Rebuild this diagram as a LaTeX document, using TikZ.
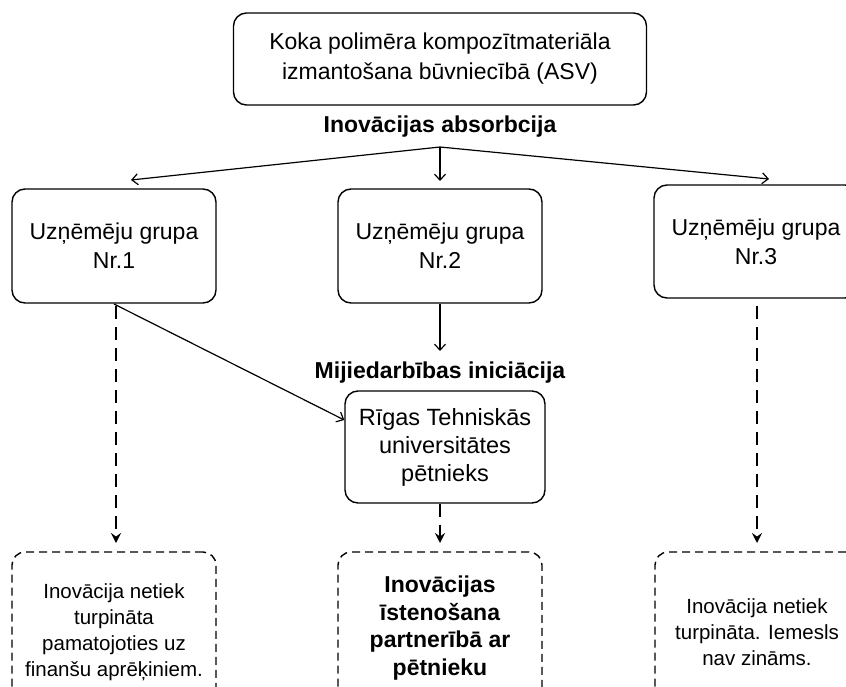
\documentclass[tikz,border=0pt]{standalone}
\usepackage{fontspec}
\setmainfont{Liberation Sans}
\usetikzlibrary{arrows.meta}
\begin{document}
\begin{tikzpicture}[x=1pt,y=-1pt,
  box/.style={draw, line width=1.4pt, rounded corners=13pt, align=center, inner sep=0pt},
  dbox/.style={box, dash pattern=on 8pt off 5pt},
  lbl/.style={font=\fontsize{23}{26}\selectfont\bfseries, inner sep=0pt},
  solidarrow/.style={line width=1.2pt, -{Straight Barb[length=6pt,width=11pt]}},
  dasharrow/.style={line width=1.7pt, dash pattern=on 13pt off 8pt,
    -{Stealth[length=10pt,width=10pt,inset=3.5pt]}}
]
\useasboundingbox (0,0) rectangle (846,686);
\clip (0,0) rectangle (846,686);

% top box
\node[box, minimum width=413pt, minimum height=92pt, font=\fontsize{23}{30}\selectfont] (top) at (440,59)
  {Koka polimēra kompozītmateriāla\\izmantošana būvniecībā (ASV)};
\node[lbl] (absorb) at (440,127) {Inovācijas absorbcija};

% company groups
\tikzset{grp/.style={box, minimum width=204pt, minimum height=114pt, font=\fontsize{23}{29}\selectfont}}
\node[grp] (g1) at (114,246) {Uzņēmēju grupa\\Nr.1};
\node[grp] (g2) at (440,246) {Uzņēmēju grupa\\Nr.2};
\node[grp, minimum height=113pt] (g3) at (756,241.5) {Uzņēmēju grupa\\Nr.3};

% interaction
\node[lbl] (inter) at (440,373) {Mijiedarbības iniciācija};
\node[box, minimum width=200pt, minimum height=112pt, font=\fontsize{23.5}{28}\selectfont] (rtu) at (445,447)
  {Rīgas Tehniskās\\universitātes\\pētnieks};

% outcomes
\tikzset{res/.style={dbox, minimum width=204pt, minimum height=160pt, font=\fontsize{20.5}{26}\selectfont}}
\node[res] (o1) at (114,632)
  {Inovācija netiek\\turpināta\\pamatojoties uz\\finanšu aprēķiniem.};
\node[res, minimum height=152pt, font=\fontsize{23}{27.5}\selectfont\bfseries] (o2) at (440,628)
  {Inovācijas\\īstenošana\\partnerībā ar\\pētnieku};
\node[res] (o3) at (757,632)
  {Inovācija netiek\\turpināta. Iemesls\\nav zināms.};

% split of the absorption arrows
\coordinate (split) at (440,147);
\coordinate (e1) at (131,180);
\coordinate (e2) at (440,181);
\coordinate (e3) at (769,179);
\draw[solidarrow] (split) -- (e1);
\draw[solidarrow] (split) -- (e2);
\draw[solidarrow] (split) -- (e3);

% group 2 to interaction
\coordinate (i2) at (440,351);
\draw[solidarrow] (g2.south) -- (i2);

% group 1 to researcher
\coordinate (g1b) at (114,304);
\draw[solidarrow] (g1b) -- (rtu.west |- 0,420);

% dashed outcome arrows
\coordinate (d1) at (116,306);
\coordinate (d3) at (757,306);
\draw[dasharrow] (d1) -- (116,543);
\draw[dasharrow] (rtu.south -| 440,0) -- (440,543);
\draw[dasharrow] (d3) -- (757,543);
\end{tikzpicture}
\end{document}
